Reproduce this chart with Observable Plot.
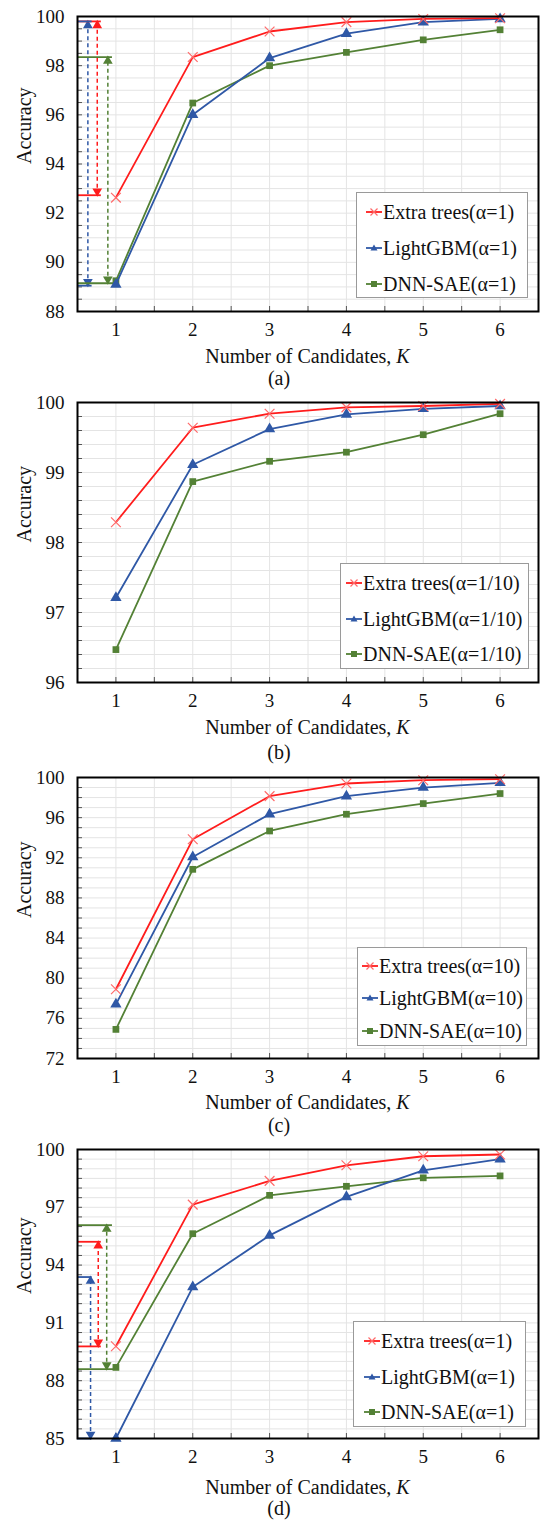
<!DOCTYPE html>
<html><head><meta charset="utf-8">
<script src="https://cdn.jsdelivr.net/npm/d3@7"></script>
<script src="https://cdn.jsdelivr.net/npm/@observablehq/plot@0.6"></script>
<style>
body{margin:0;background:#fff;}
#root{position:relative;width:541px;height:1521px;overflow:hidden;font-family:'Liberation Serif';color:#111;background:#fff;}
.panel{position:absolute;left:0;}
.xl{position:absolute;font-size:20px;white-space:nowrap;transform:translate(-50%,-50%);line-height:1;font-family:'Liberation Serif';}
.legend{position:absolute;border:1px solid #9a9a9a;background:#fff;box-sizing:border-box;}
.item{position:absolute;display:flex;align-items:center;font-size:20px;white-space:nowrap;transform:translateY(-50%);line-height:1;font-family:'Liberation Serif';}
.item svg{display:block;margin-right:1px;}
</style>
</head><body>
<div id="root"></div>
<script>
// ---- data ----
const K = [1, 2, 3, 4, 5, 6];
const seriesNames = ["Extra trees", "LightGBM", "DNN-SAE"];
const panelLetters = ["(a)", "(b)", "(c)", "(d)"];
const alphaA = "α=1", alphaB = "α=1/10", alphaC = "α=10", alphaD = "α=1";

const extraA = [92.63, 98.35, 99.39, 99.77, 99.90, 99.93];
const lgbmA  = [89.10, 96.00, 98.31, 99.30, 99.77, 99.90];
const dnnA   = [89.25, 96.48, 98.00, 98.54, 99.05, 99.46];

const extraB = [98.29, 99.64, 99.84, 99.93, 99.95, 99.98];
const lgbmB  = [97.21, 99.11, 99.62, 99.83, 99.91, 99.95];
const dnnB   = [96.47, 98.87, 99.16, 99.29, 99.54, 99.84];

const extraC = [78.9, 93.84, 98.14, 99.40, 99.73, 99.83];
const lgbmC  = [77.4, 92.08, 96.34, 98.14, 99.00, 99.47];
const dnnC   = [74.9, 90.85, 94.67, 96.34, 97.40, 98.40];

const extraD = [89.79, 97.14, 98.37, 99.18, 99.65, 99.74];
const lgbmD  = [85.00, 92.86, 95.54, 97.54, 98.92, 99.50];
const dnnD   = [88.69, 95.63, 97.62, 98.09, 98.53, 98.63];

const yTicksA = [88, 90, 92, 94, 96, 98, 100];
const yTicksB = [96, 97, 98, 99, 100];
const yTicksC = [72, 76, 80, 84, 88, 92, 96, 100];
const yTicksD = [85, 88, 91, 94, 97, 100];

// accuracy ranges highlighted by double arrows
const rangesA = [
  {series: "Extra trees", lo: 92.73, hi: 99.80},
  {series: "LightGBM", lo: 89.05, hi: 99.80},
  {series: "DNN-SAE", lo: 89.15, hi: 98.35}
];
const rangesD = [
  {series: "LightGBM", lo: 85.00, hi: 93.38},
  {series: "Extra trees", lo: 89.78, hi: 95.21},
  {series: "DNN-SAE", lo: 88.60, hi: 96.08}
];

// ---- styling / layout ----
const colors = {"Extra trees": "#ff1c1c", "LightGBM": "#2f58a6", "DNN-SAE": "#538135"};
const markColors = {"Extra trees": "#ff6a6a", "LightGBM": "#2f58a6", "DNN-SAE": "#538135"};
const FONT = "'Liberation Serif'";
const LEFT = 77, RIGHT = 538, W = 541;

const arrowsA = {
  "LightGBM": {ax: 0.635, topEnd: 0.69, botEnd: 0.69},
  "Extra trees": {ax: 0.757, topEnd: 0.81, botEnd: 0.81},
  "DNN-SAE": {ax: 0.895, topEnd: 0.955, botEnd: 1.0}
};
const arrowsD = {
  "LightGBM": {ax: 0.67, topEnd: 0.69, botEnd: 0.69},
  "Extra trees": {ax: 0.77, topEnd: 0.81, botEnd: 0.81},
  "DNN-SAE": {ax: 0.88, topEnd: 0.955, botEnd: 1.0}
};

const panels = [
  {top: 16, bottom: 311, values: [extraA, lgbmA, dnnA], ticks: yTicksA, minorStep: 0.5, alpha: alphaA,
   ranges: rangesA, arrows: arrowsA, xlab: 45, cap: 67,
   legend: {x0: 356, x1: 528, y0: 192, y1: 298, rows: [19, 55, 91], mx: 9}},
  {top: 402, bottom: 682, values: [extraB, lgbmB, dnnB], ticks: yTicksB, minorStep: 0.2, alpha: alphaB,
   ranges: [], arrows: {}, xlab: 45, cap: 70,
   legend: {x0: 340, x1: 529, y0: 563, y1: 669, rows: [19, 55, 90], mx: 5}},
  {top: 777, bottom: 1058, values: [extraC, lgbmC, dnnC], ticks: yTicksC, minorStep: 1, alpha: alphaC,
   ranges: [], arrows: {}, xlab: 44, cap: 67,
   legend: {x0: 357, x1: 527, y0: 947, y1: 1046, rows: [18, 50, 83], mx: 4}},
  {top: 1149, bottom: 1438, values: [extraD, lgbmD, dnnD], ticks: yTicksD, minorStep: 0.5, alpha: alphaD,
   ranges: rangesD, arrows: arrowsD, xlab: 49, cap: 70,
   legend: {x0: 353, x1: 526, y0: 1321, y1: 1427, rows: [19, 55, 90], mx: 10}}
];

const root = document.getElementById("root");

function legendSwatch(s) {
  const c = colors[s], m = markColors[s];
  let sym;
  if (s === "Extra trees") sym = `<path d="M4.5,2.5L11.5,9.5M11.5,2.5L4.5,9.5" stroke="${m}" stroke-width="1.2"/>`;
  else if (s === "LightGBM") sym = `<path d="M8,2.5L11.5,8.5L4.5,8.5Z" fill="${m}"/>`;
  else sym = `<rect x="5" y="3" width="6" height="6" fill="${m}"/>`;
  return `<svg width="16" height="12"><line x1="0" y1="6" x2="16" y2="6" stroke="${c}" stroke-width="1.8"/>${sym}</svg>`;
}

panels.forEach((p, pi) => {
  const lo = p.ticks[0], hi = p.ticks[p.ticks.length - 1];
  const mt = 10, mb = 60;
  const plotH = p.bottom - p.top;
  const rows = [];
  seriesNames.forEach((s, i) => p.values[i].forEach((v, j) => rows.push({series: s, k: K[j], v})));
  const minor = d3.range(lo, hi + 1e-9, p.minorStep);
  const halves = d3.range(0.5, 6.5 + 1e-9, 0.5);
  const tyLen = (hi - lo) * 5 / plotH;
  const txLen = 6 * 5 / (RIGHT - LEFT);

  const marks = [
    Plot.gridX(halves, {stroke: "#e4e4e4", strokeOpacity: 1, strokeWidth: 1}),
    Plot.gridY(minor, {stroke: "#e4e4e4", strokeOpacity: 1, strokeWidth: 1}),
    Plot.ruleX(halves, {x: d => d, y1: lo, y2: lo + tyLen, stroke: "#555"}),
    Plot.ruleY(minor, {y: d => d, x1: 0.5, x2: 0.5 + txLen, stroke: "#555"}),
    Plot.axisY(p.ticks, {tickSize: 0, tickPadding: 13, fontSize: 19, label: null, fill: "#111", tickFormat: d => String(d)}),
    Plot.axisX(K, {tickSize: 0, tickPadding: 11, fontSize: 19, label: null, fill: "#111", tickFormat: d => String(d)}),
    Plot.text(["Accuracy"], {frameAnchor: "left", rotate: -90, dx: -53, fontSize: 20, fill: "#111"})
  ];

  // range annotations
  p.ranges.forEach(r => {
    const L = p.arrows[r.series], c = colors[r.series];
    marks.push(
      Plot.ruleX([L.ax], {x: d => d, y1: r.lo, y2: r.hi, stroke: c, strokeWidth: 1.5, strokeDasharray: "4,3"}),
      Plot.dot([r.hi], {x: L.ax, y: d => d, symbol: "triangle", r: 3.6, fill: c, stroke: "none", dy: 4}),
      Plot.dot([r.lo], {x: L.ax, y: d => d, symbol: "triangle", rotate: 180, r: 3.6, fill: c, stroke: "none", dy: -4})
    );
  });
  p.ranges.forEach(r => {
    const L = p.arrows[r.series], c = colors[r.series];
    marks.push(
      Plot.ruleY([r.hi], {y: d => d, x1: 0.5, x2: L.topEnd, stroke: c, strokeWidth: 1.8}),
      Plot.ruleY([r.lo], {y: d => d, x1: 0.5, x2: L.botEnd, stroke: c, strokeWidth: 1.8})
    );
  });

  // series lines (drawn bottom-up so red is on top)
  [...seriesNames].reverse().forEach(s => {
    const d = rows.filter(r => r.series === s);
    marks.push(Plot.line(d, {x: "k", y: "v", stroke: colors[s], strokeWidth: 1.8}));
    if (s === "Extra trees") {
      marks.push(Plot.dot(d, {x: "k", y: "v", symbol: "times", r: 4.5, stroke: markColors[s], strokeWidth: 1.2}));
    } else if (s === "LightGBM") {
      marks.push(Plot.dot(d, {x: "k", y: "v", symbol: "triangle", r: 4.2, fill: markColors[s], stroke: "none"}));
    } else {
      marks.push(Plot.dot(d, {x: "k", y: "v", symbol: "square", r: 3.8, fill: markColors[s], stroke: "none"}));
    }
  });
  marks.push(Plot.frame({stroke: "#000", strokeWidth: 2}));

  const chart = Plot.plot({
    width: W, height: plotH + mt + mb,
    marginLeft: LEFT, marginRight: W - RIGHT, marginTop: mt, marginBottom: mb,
    x: {domain: [0.5, 6.5], axis: null},
    y: {domain: [lo, hi], axis: null},
    style: {fontFamily: FONT, background: "transparent", overflow: "visible"},
    marks
  });
  chart.classList.add("panel");
  chart.style.top = (p.top - mt) + "px";
  root.appendChild(chart);

  const xl = document.createElement("div");
  xl.className = "xl";
  xl.style.left = ((LEFT + RIGHT) / 2) + "px";
  xl.style.top = (p.bottom + p.xlab) + "px";
  xl.innerHTML = "Number of Candidates, <i>K</i>";
  root.appendChild(xl);

  const cap = document.createElement("div");
  cap.className = "xl";
  cap.style.left = "279px";
  cap.style.top = (p.bottom + p.cap) + "px";
  cap.textContent = panelLetters[pi];
  root.appendChild(cap);

  const lg = p.legend;
  const box = document.createElement("div");
  box.className = "legend";
  box.style.left = lg.x0 + "px";
  box.style.top = lg.y0 + "px";
  box.style.width = (lg.x1 - lg.x0) + "px";
  box.style.height = (lg.y1 - lg.y0) + "px";
  seriesNames.forEach((s, i) => {
    const it = document.createElement("div");
    it.className = "item";
    it.style.left = lg.mx + "px";
    it.style.top = lg.rows[i] + "px";
    it.innerHTML = legendSwatch(s) + `<span>${s}(${p.alpha})</span>`;
    box.appendChild(it);
  });
  root.appendChild(box);
});
</script>
</body></html>
